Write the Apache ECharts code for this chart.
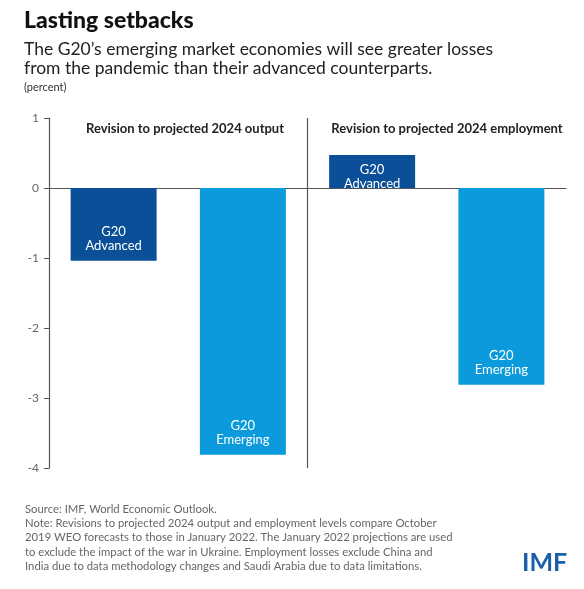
<!DOCTYPE html>
<html lang="en">

<head>
    <meta charset="UTF-8">
    <title>Lasting setbacks</title>
    <script src="https://cdn.jsdelivr.net/npm/echarts@6/dist/echarts.min.js"></script>
    <style>
        html, body { margin: 0; padding: 0; background: #fff; }
        #chart { width: 584px; height: 589px; }
    </style>
</head>

<body>
    <div id="chart"></div>

    <script>
        // data
        var categories = ['out-adv', 'out-emg', 'emp-adv', 'emp-emg'];
        var barLabels = ['G20\nAdvanced', 'G20\nEmerging', 'G20\nAdvanced', 'G20\nEmerging'];
        var values = [-1.04, -3.81, 0.47, -2.81];
        var panelTitles = ['Revision to projected 2024 output', 'Revision to projected 2024 employment'];
        var yTicks = [-4, -3, -2, -1, 0, 1];

        var darkBlue = '#0a4f97';
        var lightBlue = '#0b9bdc';
        var font = 'Lato';

        var chart = echarts.init(document.getElementById('chart'));

        var barData = values.map(function (v, i) {
            return {
                value: v,
                itemStyle: { color: i % 2 === 0 ? darkBlue : lightBlue },
                label: { position: v < 0 ? 'insideBottom' : 'insideTop' }
            };
        });

        var option = {
            animation: false,
            textStyle: { fontFamily: font },
            title: [
                {
                    text: 'Lasting setbacks', left: 19, top: 4,
                    textStyle: { fontSize: 23, fontWeight: 900, color: '#111', fontFamily: font }
                },
                {
                    text: 'The G20\u2019s emerging market economies will see greater losses\nfrom the pandemic than their advanced counterparts.',
                    left: 19, top: 35,
                    textStyle: { fontSize: 17.5, fontWeight: 'normal', color: '#222', lineHeight: 19, fontFamily: font }
                },
                {
                    text: '(percent)', left: 19, top: 77,
                    textStyle: { fontSize: 11, fontWeight: 'normal', color: '#333', fontFamily: font }
                },
                {
                    text: panelTitles[0], left: 180, top: 117, textAlign: 'center',
                    textStyle: { fontSize: 13, fontWeight: 'bold', color: '#222', fontFamily: font }
                },
                {
                    text: panelTitles[1], left: 442, top: 117, textAlign: 'center',
                    textStyle: { fontSize: 13, fontWeight: 'bold', color: '#222', fontFamily: font }
                },
                {
                    text: 'Source: IMF, World Economic Outlook.\nNote: Revisions to projected 2024 output and employment levels compare October\n2019 WEO forecasts to those in January 2022. The January 2022 projections are used\nto exclude the impact of the war in Ukraine. Employment losses exclude China and\nIndia due to data methodology changes and Saudi Arabia due to data limitations.',
                    left: 20, top: 497,
                    textStyle: { fontSize: 11.3, fontWeight: 'normal', color: '#666', lineHeight: 14.3, fontFamily: font }
                },
                {
                    text: 'IMF', left: 517, top: 545,
                    textStyle: { fontSize: 25, fontWeight: 'bold', color: '#1c5ea8', fontFamily: font }
                }
            ],
            grid: { left: 49, right: 18, top: 118, bottom: 121 },
            xAxis: [{
                type: 'category',
                data: categories,
                axisLine: { onZero: true, lineStyle: { color: '#555', width: 1.2 } },
                axisTick: { show: false },
                axisLabel: { show: false },
                splitLine: { show: false }
            }, {
                // hidden helper axis, only used to place the panel divider
                type: 'value',
                min: 0, max: 4,
                show: false
            }],
            yAxis: {
                type: 'value',
                min: -4, max: 1, interval: 1,
                axisLine: { show: true, lineStyle: { color: '#555', width: 1.2 } },
                axisTick: { show: true, length: 5, lineStyle: { color: '#555' } },
                axisLabel: {
                    color: '#666', fontSize: 12, margin: 10,
                    customValues: yTicks
                },
                splitLine: { show: false }
            },
            series: [{
                type: 'bar',
                data: barData,
                barWidth: 86,
                label: {
                    show: true,
                    color: '#fff',
                    fontSize: 13,
                    lineHeight: 14,
                    distance: 8,
                    formatter: function (p) { return barLabels[p.dataIndex]; }
                }
            }, {
                type: 'line',
                xAxisIndex: 1,
                data: [],
                markLine: {
                    silent: true,
                    symbol: 'none',
                    label: { show: false },
                    lineStyle: { color: '#555', width: 1.2, type: 'solid' },
                    data: [[{ coord: [2, 1] }, { coord: [2, -4] }]]
                }
            }]
        };

        chart.setOption(option);
    </script>
</body>

</html>
